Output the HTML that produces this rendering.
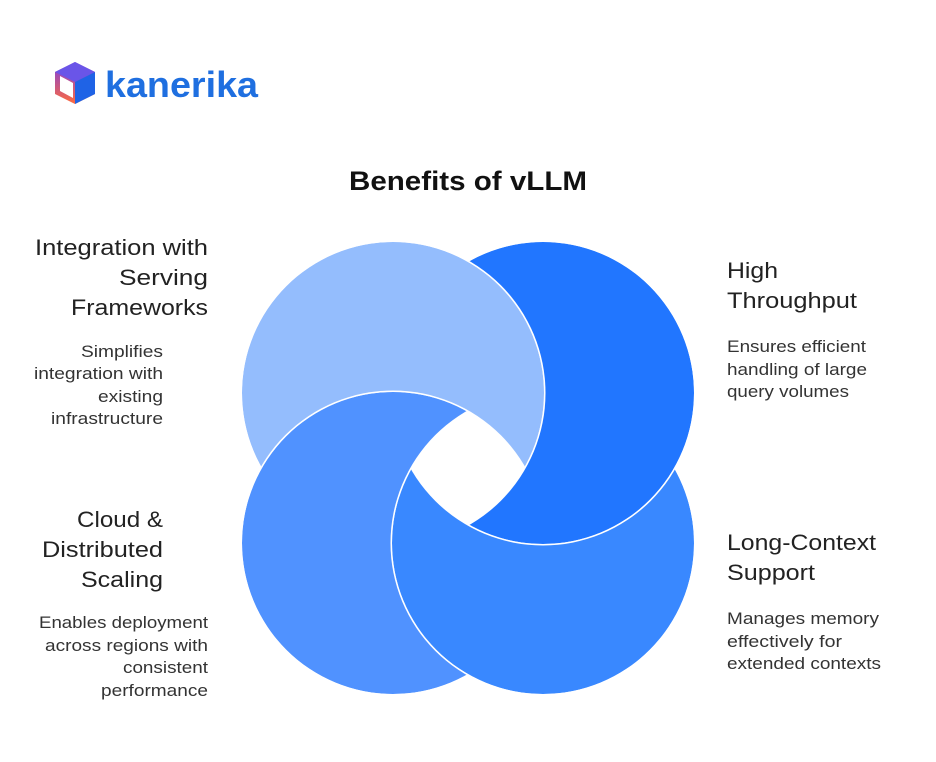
<!DOCTYPE html>
<html><head><meta charset="utf-8"><style>
html,body{margin:0;padding:0;background:#fff;}
svg{display:block;font-family:"Liberation Sans",Arial,sans-serif;}
</style></head><body>
<svg width="936" height="762" viewBox="0 0 936 762" xmlns="http://www.w3.org/2000/svg">
<defs>
<linearGradient id="cg" x1="0" y1="0" x2="0" y2="1"><stop offset="0" stop-color="#7b3fe4"/><stop offset="1" stop-color="#ff6a3d"/></linearGradient>
<mask id="mTL" maskUnits="userSpaceOnUse" x="0" y="0" width="936" height="762"><circle cx="393" cy="393" r="151" fill="#fff"/><circle cx="393" cy="543" r="152.5" fill="#000"/></mask>
<mask id="mBL" maskUnits="userSpaceOnUse" x="0" y="0" width="936" height="762"><circle cx="393" cy="543" r="151" fill="#fff"/><circle cx="543" cy="543" r="152.5" fill="#000"/></mask>
<mask id="mBR" maskUnits="userSpaceOnUse" x="0" y="0" width="936" height="762"><circle cx="543" cy="543" r="151" fill="#fff"/><circle cx="543" cy="393" r="152.5" fill="#000"/></mask>
<mask id="mTR" maskUnits="userSpaceOnUse" x="0" y="0" width="936" height="762"><circle cx="543" cy="393" r="151" fill="#fff"/><circle cx="393" cy="393" r="152.5" fill="#000"/></mask>
</defs>
<polygon points="75,62 95,72 95,94 75,104 55,94 55,72" fill="url(#cg)"/>
<polygon points="75,62 95,72 75,82 55,72" fill="#6a55e8"/>
<polygon points="75,82 95,72 95,94 75,104" fill="#1f63e6"/>
<polygon points="60,76 73,83 73,98 60,91" fill="#fff"/>
<text x="105" y="97" font-size="36" font-weight="bold" fill="#1f6fe0" textLength="153" lengthAdjust="spacingAndGlyphs">kanerika</text>
<text x="349" y="190" font-size="27" font-weight="bold" fill="#111" textLength="238" lengthAdjust="spacingAndGlyphs">Benefits of vLLM</text>
<circle cx="393" cy="393" r="151" fill="#94bdfd" mask="url(#mTL)"/>
<circle cx="543" cy="393" r="151" fill="#2176ff" mask="url(#mTR)"/>
<circle cx="393" cy="543" r="151" fill="#5092ff" mask="url(#mBL)"/>
<circle cx="543" cy="543" r="151" fill="#3988ff" mask="url(#mBR)"/>
<g font-size="22" fill="#222">
<text x="35" y="255" textLength="173" lengthAdjust="spacingAndGlyphs">Integration with</text>
<text x="119" y="285" textLength="89" lengthAdjust="spacingAndGlyphs">Serving</text>
<text x="71" y="315" textLength="137" lengthAdjust="spacingAndGlyphs">Frameworks</text>
<text x="77" y="527" textLength="86" lengthAdjust="spacingAndGlyphs">Cloud &amp;</text>
<text x="42" y="557" textLength="121" lengthAdjust="spacingAndGlyphs">Distributed</text>
<text x="81" y="587" textLength="82" lengthAdjust="spacingAndGlyphs">Scaling</text>
<text x="727" y="278" textLength="51" lengthAdjust="spacingAndGlyphs">High</text>
<text x="727" y="308" textLength="130" lengthAdjust="spacingAndGlyphs">Throughput</text>
<text x="727" y="550" textLength="149" lengthAdjust="spacingAndGlyphs">Long-Context</text>
<text x="727" y="580" textLength="88" lengthAdjust="spacingAndGlyphs">Support</text>
</g>
<g font-size="17" fill="#333">
<text x="81" y="357" textLength="82" lengthAdjust="spacingAndGlyphs">Simplifies</text>
<text x="34" y="379" textLength="129" lengthAdjust="spacingAndGlyphs">integration with</text>
<text x="98" y="402" textLength="65" lengthAdjust="spacingAndGlyphs">existing</text>
<text x="51" y="424" textLength="112" lengthAdjust="spacingAndGlyphs">infrastructure</text>
<text x="39" y="628" textLength="169" lengthAdjust="spacingAndGlyphs">Enables deployment</text>
<text x="45" y="651" textLength="163" lengthAdjust="spacingAndGlyphs">across regions with</text>
<text x="123" y="673" textLength="85" lengthAdjust="spacingAndGlyphs">consistent</text>
<text x="101" y="696" textLength="107" lengthAdjust="spacingAndGlyphs">performance</text>
<text x="727" y="352" textLength="139" lengthAdjust="spacingAndGlyphs">Ensures efficient</text>
<text x="727" y="375" textLength="140" lengthAdjust="spacingAndGlyphs">handling of large</text>
<text x="727" y="397" textLength="122" lengthAdjust="spacingAndGlyphs">query volumes</text>
<text x="727" y="624" textLength="152" lengthAdjust="spacingAndGlyphs">Manages memory</text>
<text x="727" y="647" textLength="115" lengthAdjust="spacingAndGlyphs">effectively for</text>
<text x="727" y="669" textLength="154" lengthAdjust="spacingAndGlyphs">extended contexts</text>
</g>
</svg>
</body></html>
